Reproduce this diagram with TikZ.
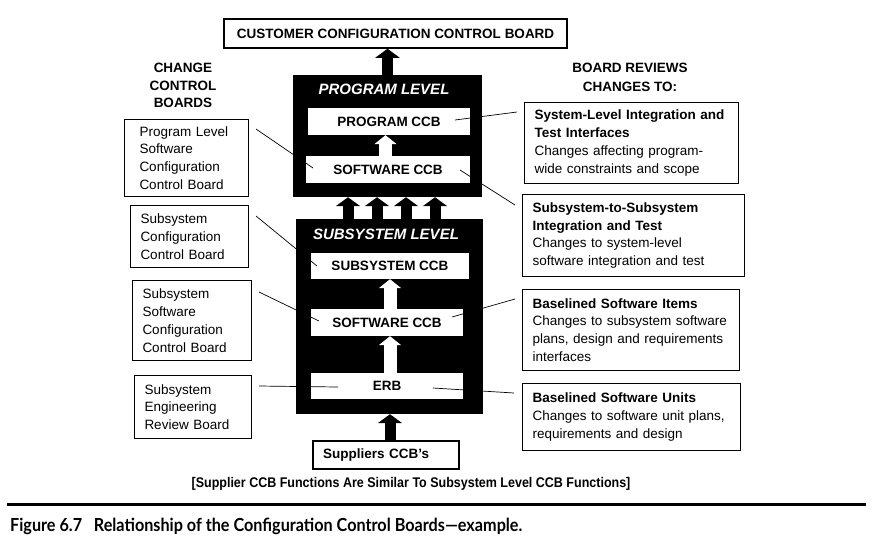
\documentclass[tikz,border=0pt]{standalone}
\usepackage{fontspec}
\usepackage{graphicx}
\setmainfont{Liberation Sans}
\newfontfamily\capfont{Lato}
\usetikzlibrary{arrows.meta}

\tikzset{
  level/.style={fill=black, inner sep=0pt},
  lvltitle/.style={white, font=\fontsize{15}{18}\selectfont\bfseries\itshape},
  ccb/.style={fill=white, inner sep=0pt, font=\fontsize{13.5}{16}\selectfont\bfseries},
  hdr/.style={align=center, font=\fontsize{13.5}{17.5}\selectfont\bfseries},
  note/.style={draw, line width=1pt, anchor=north west, align=left, inner xsep=10pt, inner ysep=0pt,
    font=\fontsize{13.5}{17.8}\selectfont},
  upblack/.style={line width=11pt, -{Triangle[width=24pt,length=9pt]}},
  upwhite/.style={white, line width=13pt, -{Triangle[width=22pt,length=9pt]}},
  lead/.style={line width=0.7pt}
}

\begin{document}
\begin{tikzpicture}[x=1pt,y=-1pt]

    \useasboundingbox (0,0) rectangle (872,542);

    % customer board
    \node[draw, line width=1.5pt, minimum width=343pt, minimum height=29pt, inner sep=0pt,
      font=\fontsize{13.5}{16}\selectfont\bfseries] (cust) at (395.5,33.5) {CUSTOMER CONFIGURATION CONTROL BOARD};

    % program level
    \node[level, minimum width=189pt, minimum height=122pt] (prog) at (387.5,136) {};
    \node[lvltitle] (progt) at (384,89) {PROGRAM LEVEL};
    \node[ccb, minimum width=162pt, minimum height=27pt] (pccb) at (389,121.5) {PROGRAM CCB};
    \node[ccb, minimum width=164pt, minimum height=27pt] (psw) at (388,169.5) {SOFTWARE CCB};

    % subsystem level
    \node[level, minimum width=187pt, minimum height=195pt] (sub) at (389.5,316.5) {};
    \node[lvltitle] (subt) at (386,234) {SUBSYSTEM LEVEL};
    \node[ccb, minimum width=158pt, minimum height=26pt] (sccb) at (390,266) {SUBSYSTEM CCB};
    \node[ccb, minimum width=152pt, minimum height=27pt] (ssw) at (387,322.5) {SOFTWARE CCB};
    \node[ccb, minimum width=152pt, minimum height=26pt] (erb) at (387,386) {ERB};

    \node[draw, line width=1.2pt, minimum height=28pt, text width=126pt, inner xsep=10pt, align=left,
      font=\fontsize{13.5}{16}\selectfont\bfseries] (supp) at (386,455) {Suppliers CCB's};

    % headings
    \node[hdr] (chg) at (183,85.5) {CHANGE\\CONTROL\\BOARDS};
    \node[hdr, font=\fontsize{13.5}{19}\selectfont\bfseries] (rev) at (630,77.5) {BOARD REVIEWS\\CHANGES TO:};

    % left notes
    \node[note, inner xsep=15pt, text width=94pt, minimum height=77pt] (lb1) at (124,119)
      {Program Level\\Software\\Configuration\\Control Board};
    \node[note, text width=98pt, minimum height=62pt] (lb2) at (130,205)
      {Subsystem\\Configuration\\Control Board};
    \node[note, text width=99pt, minimum height=80pt] (lb3) at (132,280)
      {Subsystem\\Software\\Configuration\\Control Board};
    \node[note, text width=97pt, minimum height=63pt] (lb4) at (134,375)
      {Subsystem\\Engineering\\Review Board};

    % right notes
    \node[note, text width=194pt, minimum height=81pt] (rb1) at (524,102)
      {{\bfseries System-Level Integration and\\Test Interfaces}\\Changes affecting program-\\wide constraints and scope};
    \node[note, text width=202pt, minimum height=82pt] (rb2) at (522,194)
      {{\bfseries Subsystem-to-Subsystem\\Integration and Test}\\Changes to system-level\\software integration and test};
    \node[note, text width=197pt, minimum height=81pt] (rb3) at (522,289)
      {{\bfseries Baselined Software Items}\\Changes to subsystem software\\plans, design and requirements\\interfaces};
    \node[note, text width=198pt, minimum height=67pt] (rb4) at (522,383)
      {{\bfseries Baselined Software Units}\\Changes to software unit plans,\\requirements and design};

    % arrows
    \draw[upblack] (prog.north) -- (prog.north |- cust.south);
    \foreach \x in {348,377,406,435}
        \draw[upblack] (sub.north -| \x,0) -- (prog.south -| \x,0);
    \draw[upwhite] ([xshift=-2.5pt]psw.north) -- ([xshift=-2.5pt]psw.north |- pccb.south);
    \draw[upwhite] (sccb.south |- ssw.north) -- (sccb.south);
    \draw[upwhite] (sccb.south |- erb.north) -- (sccb.south |- ssw.south);
    \draw[upblack] (sccb.south |- supp.north) -- (sccb.south |- sub.south);

    % leader lines
    \coordinate (l1) at (313,168);
    \coordinate (l2) at (317,266);
    \coordinate (l3) at (319,321);
    \coordinate (l4) at (338,387);
    \coordinate (r1) at (455,120);
    \coordinate (r2) at (460,170);
    \coordinate (r3) at (452,317);
    \coordinate (r4) at (433,388);
    \draw[lead] ([shift={(7,10)}]lb1.north east) -- (l1);
    \draw[lead] ([shift={(7,11)}]lb2.north east) -- (l2);
    \draw[lead] ([shift={(7,12)}]lb3.north east) -- (l3);
    \draw[lead] ([shift={(7,11)}]lb4.north east) -- (l4);
    \draw[lead] (r1) -- ([shift={(-7,10)}]rb1.north west);
    \draw[lead] (r2) -- ([shift={(-7,11)}]rb2.north west);
    \draw[lead] (r3) -- ([shift={(-7,10)}]rb3.north west);
    \draw[lead] (r4) -- ([shift={(-8,10)}]rb4.north west);

    \node[font=\fontsize{14}{16}\selectfont\bfseries] (remark) at (411,484)
      {\scalebox{0.893}[1]{[Supplier CCB Functions Are Similar To Subsystem Level CCB Functions]}};

    % figure caption
    \draw[line width=3.5pt] (7,504.5) -- (866,504.5);
    \node[anchor=west, inner sep=0pt, font=\capfont\fontsize{18}{20}\selectfont\bfseries] (figcap) at (10,526)
      {\scalebox{0.9}[1]{Figure 6.7\hspace{13pt}Relationship of the Configuration Control Boards—example.}};

\end{tikzpicture}
\end{document}
